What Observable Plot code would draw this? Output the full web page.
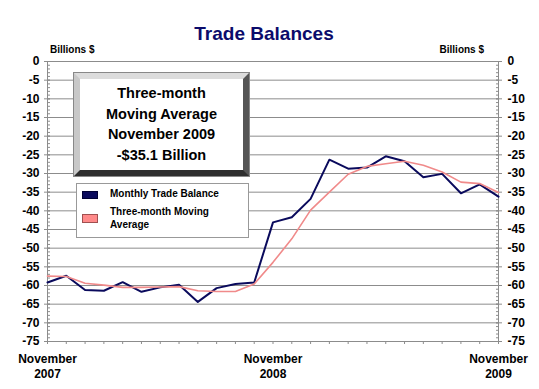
<!DOCTYPE html>
<html>
<head>
<meta charset="utf-8">
<script src="https://cdn.jsdelivr.net/npm/d3@7"></script>
<script src="https://cdn.jsdelivr.net/npm/@observablehq/plot@0.6"></script>
<style>
  html, body { margin: 0; padding: 0; background: #fff; }
  #wrap { position: relative; width: 539px; height: 389px; font-family: "Liberation Sans", Arial, sans-serif; overflow: hidden; }
  #wrap svg { position: absolute; left: 0; top: 0; }
  .ov { position: absolute; font-weight: bold; white-space: nowrap; }
  #title { left: 0; width: 528px; top: 23px; text-align: center; font-size: 19px; color: #0b0b6b; }
  .units { top: 44px; font-size: 10px; color: #000; }
  #box { left: 74px; top: 73px; width: 163px; height: 91px; background: #fff;
         border-style: solid; border-width: 6px;
         border-top-color: #dcdcdc; border-left-color: #c8c8c8; border-right-color: #555; border-bottom-color: #2e2e2e;
         outline: 1px solid #888; text-align: center; font-size: 14.5px; color: #000; }
  #box div { height: 20.5px; line-height: 20.5px; }
  #legend { left: 76px; top: 183px; width: 171px; height: 53px; background: #fff; border: 1px solid #999; font-size: 10px; color: #000; }
  .sw { position: absolute; left: 5px; width: 14px; }
  .lt { position: absolute; left: 33px; line-height: 12.6px; }
</style>
</head>
<body>
<div id="wrap"></div>
<script>
// ---- data ----
const months = ["2007-11","2007-12","2008-01","2008-02","2008-03","2008-04","2008-05","2008-06","2008-07","2008-08","2008-09","2008-10","2008-11","2008-12","2009-01","2009-02","2009-03","2009-04","2009-05","2009-06","2009-07","2009-08","2009-09","2009-10","2009-11"];
const monthly = [-59.2,-57.4,-61.2,-61.4,-59.1,-61.7,-60.5,-59.8,-64.4,-60.7,-59.6,-59.2,-43.1,-41.7,-36.8,-26.3,-28.7,-28.4,-25.4,-26.7,-31.0,-30.1,-35.3,-32.9,-36.2];
const movingAvg = [-57.5,-57.6,-59.4,-59.9,-60.5,-60.5,-60.4,-60.3,-61.4,-61.6,-61.6,-59.6,-53.8,-47.5,-39.8,-35.0,-30.2,-28.1,-27.4,-26.7,-27.8,-29.6,-32.3,-32.7,-35.1];
const yMajorTicks = [0,-5,-10,-15,-20,-25,-30,-35,-40,-45,-50,-55,-60,-65,-70,-75];
const yMinorTicks = d3.range(-75, 1, 1);
const xLabelMonths = ["2007-11","2008-11","2009-11"];
const xLabels = ["November\n2007","November\n2008","November\n2009"];
const seriesNames = ["Monthly Trade Balance","Three-month Moving Average"];
const colors = {monthly: "#0a0a5c", avg: "#f08a8a", grid: "#8c8c8c"};

const rows = months.map((m, i) => ({i, month: m, monthly: monthly[i], avg: movingAvg[i]}));
const idx = months.map((_, i) => i);
const labelIdx = xLabelMonths.map(m => months.indexOf(m));
const fmtX = i => xLabels[labelIdx.indexOf(i)];
const fmtY = d => String(d);

const font = {fontSize: 12, fontWeight: "bold", fill: "#000"};
const nl = {label: null};

const chart = Plot.plot({
  width: 539, height: 389,
  marginLeft: 47, marginRight: 41, marginTop: 61, marginBottom: 48,
  style: {fontFamily: "'Liberation Sans', Arial, sans-serif", background: "transparent", overflow: "visible"},
  x: {type: "linear", domain: [0, months.length - 1], label: null},
  y: {domain: [-75, 0], label: null},
  marks: [
    Plot.gridY(yMajorTicks, {stroke: colors.grid, strokeOpacity: 1, strokeWidth: 1}),
    Plot.ruleX([0, months.length - 1], {stroke: colors.grid, strokeWidth: 1}),
    // left axis
    Plot.axisY(yMajorTicks, {anchor: "left", tickSize: 6, dx: 3, text: null, stroke: colors.grid, ...nl}),
    Plot.axisY(yMinorTicks, {anchor: "left", tickSize: 3, dx: 3, text: null, stroke: colors.grid, ...nl}),
    Plot.axisY(yMajorTicks, {anchor: "left", tickSize: 0, tickPadding: 8, tickFormat: fmtY, ...nl, ...font}),
    // right axis
    Plot.axisY(yMajorTicks, {anchor: "right", tickSize: 6, dx: -3, text: null, stroke: colors.grid, ...nl}),
    Plot.axisY(yMinorTicks, {anchor: "right", tickSize: 3, dx: -3, text: null, stroke: colors.grid, ...nl}),
    Plot.axisY(yMajorTicks, {anchor: "right", tickSize: 0, tickPadding: 9, tickFormat: fmtY, ...nl, ...font}),
    // x axis
    Plot.axisX(idx, {anchor: "bottom", tickSize: 3, text: null, stroke: colors.grid, ...nl}),
    Plot.axisX(labelIdx, {anchor: "bottom", tickSize: 0, tickPadding: 11, tickFormat: fmtX, lineHeight: 1.25, ...nl, ...font}),
    // series
    Plot.line(rows, {x: "i", y: "monthly", stroke: colors.monthly, strokeWidth: 2}),
    Plot.line(rows, {x: "i", y: "avg", stroke: colors.avg, strokeWidth: 1.6})
  ]
});

const wrap = document.getElementById("wrap");
wrap.appendChild(chart);

function add(html) { wrap.insertAdjacentHTML("beforeend", html); }
add(`<div id="title" class="ov">Trade Balances</div>`);
add(`<div class="ov units" style="left:50px">Billions $</div>`);
add(`<div class="ov units" style="right:55px">Billions $</div>`);
add(`<div id="box" class="ov"><div style="margin-top:4px">Three-month</div><div>Moving Average</div><div>November 2009</div><div>-$35.1 Billion</div></div>`);
add(`<div id="legend" class="ov">
  <div class="sw" style="top:7px;height:6px;background:${colors.monthly};border:1px solid #000033"></div>
  <div class="lt" style="top:4px">${seriesNames[0]}</div>
  <div class="sw" style="top:30px;height:7px;background:#ff8a8a;border:1px solid #a05050"></div>
  <div class="lt" style="top:22px;width:120px;white-space:normal">${seriesNames[1].replace("Moving ", "Moving<br>")}</div>
</div>`);
</script>
</body>
</html>
